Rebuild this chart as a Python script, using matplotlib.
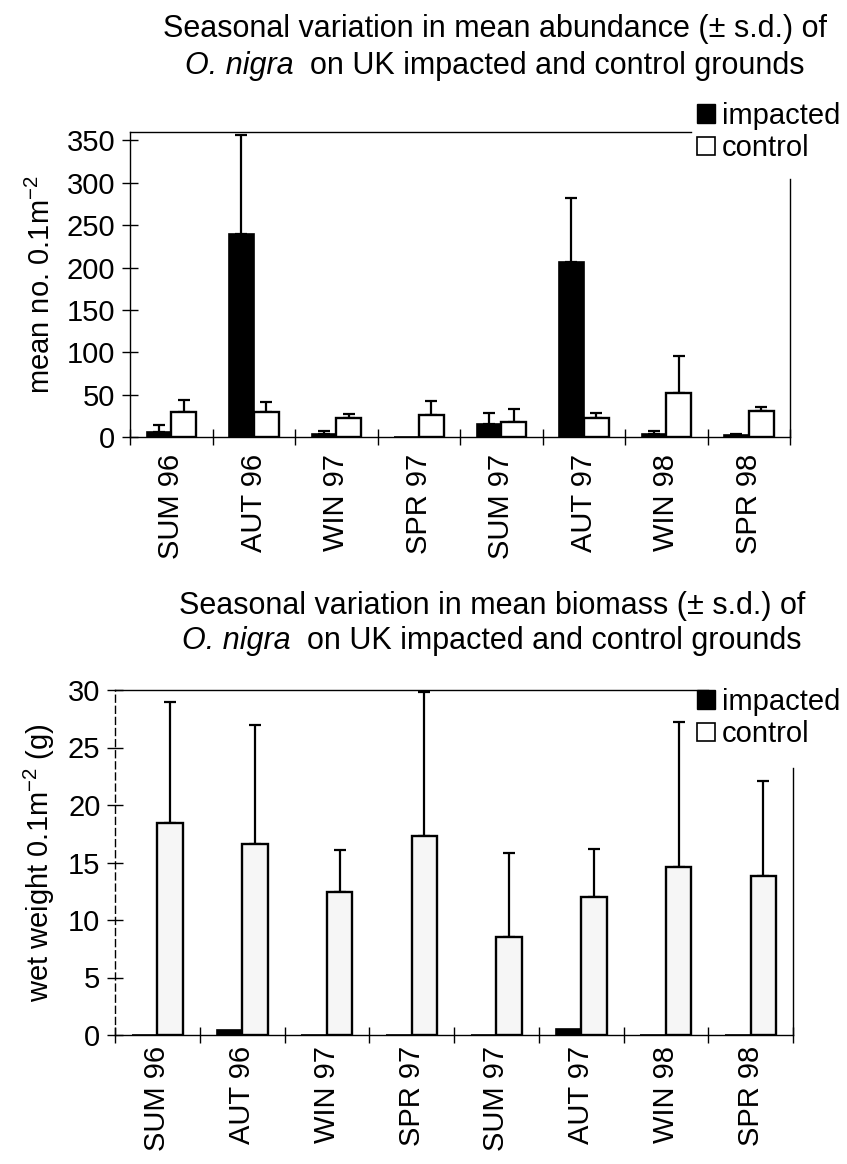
import matplotlib
matplotlib.use('Agg')
import matplotlib.pyplot as plt
import numpy as np
from matplotlib.patches import Patch
from matplotlib.offsetbox import TextArea, HPacker, AnchoredOffsetbox

plt.rcParams['font.family'] = ['Liberation Sans', 'DejaVu Sans']
plt.rcParams['mathtext.fontset'] = 'custom'
plt.rcParams['mathtext.rm'] = 'Liberation Sans'
plt.rcParams['mathtext.it'] = 'Liberation Sans:italic'

seasons = ['SUM 96', 'AUT 96', 'WIN 97', 'SPR 97', 'SUM 97', 'AUT 97', 'WIN 98', 'SPR 98']

# abundance (mean no. 0.1m-2)
abund_impacted = [6, 240, 4, 0.5, 15, 207, 4, 2]
abund_impacted_sd = [8, 116, 3, 0, 13, 75, 3, 1.5]
abund_control = [30, 29, 23, 26, 18, 23, 52, 31]
abund_control_sd = [14, 12, 4, 16, 15, 5, 44, 5]

# biomass (wet weight g 0.1m-2)
bio_impacted = [0.0, 0.4, 0.0, 0.0, 0.0, 0.5, 0.0, 0.0]
bio_impacted_sd = [0, 0, 0, 0, 0, 0, 0, 0]
bio_control = [18.4, 16.6, 12.4, 17.3, 8.5, 12.0, 14.6, 13.8]
bio_control_sd = [10.6, 10.4, 3.7, 12.5, 7.3, 4.2, 12.6, 8.3]

W, H = 847, 1164
fig = plt.figure(figsize=(W / 100, H / 100), dpi=100)

FS = 21
TFS = 22


def panel(rect, imp, imp_sd, ctl, ctl_sd, ylim, yticks, ylabel, ctl_face,
          top_end, right_top, xpad, left_ls):
    ax = fig.add_axes(rect)
    x = np.arange(len(seasons))
    w = 0.3
    ax.bar(x - w / 2, imp, w, color='black', edgecolor='black', linewidth=1.2,
           zorder=3)
    ax.bar(x + w / 2, ctl, w, color=ctl_face, edgecolor='black', linewidth=1.7,
           zorder=3)
    imp = np.asarray(imp, float)
    imp_sd = np.asarray(imp_sd, float)
    m = imp_sd > 0
    if m.any():
        ax.errorbar(x[m] - w / 2, imp[m],
                    yerr=[np.zeros(m.sum()), imp_sd[m]],
                    fmt='none', ecolor='black', elinewidth=1.6, capsize=4,
                    capthick=1.6, zorder=2)
    ax.errorbar(x + w / 2, ctl, yerr=[np.zeros(len(ctl)), ctl_sd],
                fmt='none', ecolor='black', elinewidth=1.6, capsize=4,
                capthick=1.6, zorder=2)
    ax.set_xlim(-0.5, len(seasons) - 0.5)
    ax.set_ylim(*ylim)
    ax.set_yticks(yticks)
    ax.set_yticklabels([str(t) for t in yticks], fontsize=FS)
    ax.tick_params(axis='y', direction='inout', length=11, width=1.0, pad=5)
    ax.set_xticks(np.arange(-0.5, len(seasons)), minor=False)
    ax.set_xticklabels([])
    ax.set_xticks(x, minor=True)
    ax.set_xticklabels(seasons, minor=True, rotation=90, fontsize=FS)
    ax.tick_params(axis='x', which='major', direction='inout', length=11,
                   width=1.0)
    ax.tick_params(axis='x', which='minor', length=0, pad=xpad)
    ax.set_ylabel(ylabel, fontsize=FS, labelpad=8)
    for s in ax.spines.values():
        s.set_linewidth(1.0)
    ax.spines['top'].set_bounds(-0.5, top_end)
    ax.spines['right'].set_bounds(0, right_top)
    ax.spines['left'].set_linestyle(left_ls)
    return ax


# top panel: 0 at y=437, 350 at y=141, left x=130, right x=790
ax1 = panel([130 / W, 1 - 437 / H, 660 / W, 305 / H],
            abund_impacted, abund_impacted_sd, abund_control, abund_control_sd,
            (0, 360), [0, 50, 100, 150, 200, 250, 300, 350],
            'mean no. 0.1m$^{-2}$', 'white', 6.3, 304, 12, '-')

# bottom panel: 0 at y=1035, 30 at y=690, left x=115, right x=793
ax2 = panel([115 / W, 1 - 1035 / H, 678 / W, 345 / H],
            bio_impacted, bio_impacted_sd, bio_control, bio_control_sd,
            (0, 30), [0, 5, 10, 15, 20, 25, 30],
            'wet weight 0.1m$^{-2}$ (g)', '#f6f6f6', 6.5, 23.2, 8,
            (0, (5, 3)))

handles = [Patch(facecolor='black', edgecolor='black'),
           Patch(facecolor='white', edgecolor='black', linewidth=1.2)]
for ax, ytop in ((ax1, 102), (ax2, 688)):
    ax.legend(handles, ['impacted', 'control'], loc='upper left',
              bbox_to_anchor=(697 / W, 1 - ytop / H),
              bbox_transform=fig.transFigure, frameon=False, fontsize=21,
              handlelength=0.6, handleheight=0.6, handletextpad=0.25,
              labelspacing=0.15, borderpad=0, borderaxespad=0)


def title(first, xc, y1, y2):
    fig.text(xc / W, 1 - y1 / H, first, ha='center', va='center',
             fontsize=TFS)
    box = HPacker(children=[
        TextArea('O. nigra', textprops=dict(fontsize=TFS, fontstyle='italic')),
        TextArea('on UK impacted and control grounds',
                 textprops=dict(fontsize=TFS))],
        align='baseline', pad=0, sep=12)
    ab = AnchoredOffsetbox(loc='center', child=box, pad=0, borderpad=0,
                           frameon=False,
                           bbox_to_anchor=(xc / W, 1 - y2 / H),
                           bbox_transform=fig.transFigure)
    fig.add_artist(ab)


title('Seasonal variation in mean abundance (± s.d.) of', 495, 29, 66)
title('Seasonal variation in mean biomass (± s.d.) of', 492, 606, 641)

fig.savefig('out.png', dpi=100, facecolor='white')
